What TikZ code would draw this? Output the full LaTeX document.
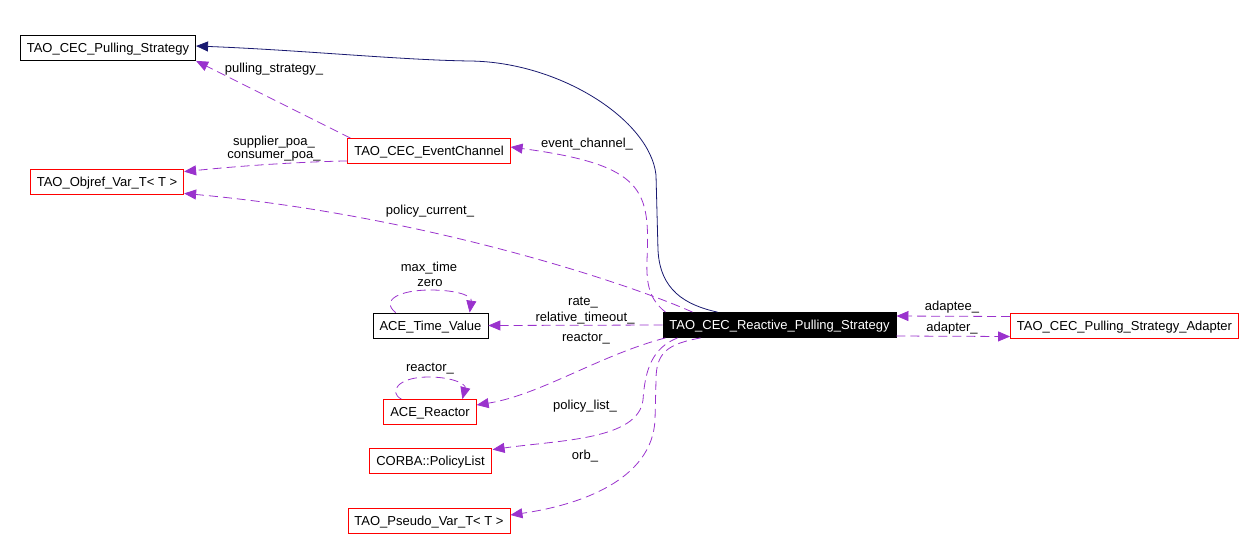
\documentclass[tikz,border=0pt]{standalone}
\usepackage{fontspec}
\setmainfont{Liberation Sans}
\usepackage{xcolor}
\usepackage{tikz}
\usetikzlibrary{arrows.meta, calc}

\definecolor{orchid}{HTML}{9A32CD}
\definecolor{navyline}{HTML}{191970}

\begin{document}
\begin{tikzpicture}[x=1pt, y=-1pt,
                font=\fontsize{13}{15}\selectfont,
                classbox/.style={rectangle, draw=black, line width=0.8pt, inner xsep=6.5pt, inner ysep=0pt, minimum height=25pt, text height=9.4pt, text depth=0pt},
                undoc/.style={classbox, draw=red},
                focus/.style={classbox, fill=black, text=white},
                member/.style={draw=orchid, line width=0.8pt, dash pattern=on 9pt off 5pt, -{Triangle[length=12pt, width=10pt]}},
                inherit/.style={draw=navyline, line width=0.8pt, -{Triangle[length=12pt, width=10pt]}},
                lbl/.style={inner sep=0pt}
            ]
                \useasboundingbox (0,0) rectangle (1259,550);

                % Nodes
                \node[classbox] (ps) at (108,48) {TAO\_CEC\_Pulling\_Strategy};
                \node[undoc] (ec) at (429,151) {TAO\_CEC\_EventChannel};
                \node[undoc] (objref) at (107,181.5) {TAO\_Objref\_Var\_T< T >};
                \node[classbox] (tv) at (430.5,325.5) {ACE\_Time\_Value};
                \node[focus] (rps) at (779.5,325) {TAO\_CEC\_Reactive\_Pulling\_Strategy};
                \node[undoc] (adapter) at (1124.5,325.5) {TAO\_CEC\_Pulling\_Strategy\_Adapter};
                \node[undoc] (reactor) at (430,412) {ACE\_Reactor};
                \node[undoc] (plist) at (430.5,460.5) {CORBA::PolicyList};
                \node[undoc] (pseudo) at (429,521) {TAO\_Pseudo\_Var\_T< T >};

                % Paths: Inheritance
                \draw[inherit] ($(rps.north west)+(55,0)$) .. controls (685,305) and (660,290) .. (658,250)
                    -- (656,175) .. controls (650,120) and (560,62) .. (470,61)
                    .. controls (400,60) and (300,50) .. ($(ps.east)+(0,-2)$);

                % Paths: Members
                \draw[member] ($(ec.north west)+(3,0)$) -- (ps.south east);
                \draw[member] ($(ec.south west)+(0,-3)$) .. controls (300,162) and (250,165) .. ($(objref.north east)+(0,3)$);
                \draw[member] ($(rps.north west)+(3,0)$) .. controls (650,300) and (646,285) .. (647,260)
                    .. controls (650,190) and (645,165) .. ($(ec.east)+(0,-4)$);
                \draw[member] ($(rps.north west)+(30,0)$) .. controls (625,282) and (420,215) .. ($(objref.south east)+(0,-1)$);
                \draw[member] (rps.west) -- (tv.east);
                \draw[member] ($(tv.north west)+(23,0)$) .. controls (380,300) and (400,290) .. (430,290)
                    .. controls (458,290) and (472,296) .. ($(tv.north west)+(97,0)$);
                \draw[member] ($(rps.south west)+(3,0)$) .. controls (600,355) and (540,395) .. ($(reactor.east)+(0,-7)$);
                \draw[member] ($(reactor.north west)+(18,0)$) .. controls (388,392) and (398,377) .. (428,377)
                    .. controls (455,377) and (466,385) .. ($(reactor.north west)+(79,0)$);
                \draw[member] ($(rps.south west)+(15,0)$) .. controls (652,348) and (645,370) .. (643,400)
                    .. controls (638,440) and (560,440) .. ($(plist.north east)+(1,2)$);
                \draw[member] ($(rps.south west)+(38,0)$) .. controls (668,344) and (656,352) .. (656,380)
                    -- (655,420) .. controls (652,480) and (580,505) .. ($(pseudo.east)+(0,-6)$);
                \draw[member] ($(adapter.west)+(0,-9)$) -- ($(rps.east)+(0,-9)$);
                \draw[member] ($(rps.east)+(0,11)$) -- ($(adapter.west)+(0,11)$);

                % Labels
                \node[lbl] (l-ps) at (274,69) {pulling\_strategy\_};
                \node[lbl] (l-sup) at (274,142) {supplier\_poa\_};
                \node[lbl] (l-con) at (274,156) {consumer\_poa\_};
                \node[lbl] (l-ec) at (587,144) {event\_channel\_};
                \node[lbl] (l-pc) at (430,211) {policy\_current\_};
                \node[lbl] (l-max) at (429,268) {max\_time};
                \node[lbl] (l-zero) at (430,283) {zero};
                \node[lbl] (l-rate) at (583,303) {rate\_};
                \node[lbl] (l-rel) at (585,318) {relative\_timeout\_};
                \node[lbl] (l-reac) at (586,339) {reactor\_};
                \node[lbl] (l-self) at (430,369) {reactor\_};
                \node[lbl] (l-pl) at (585,406) {policy\_list\_};
                \node[lbl] (l-orb) at (585,456) {orb\_};
                \node[lbl] (l-tee) at (952,307) {adaptee\_};
                \node[lbl] (l-ter) at (952,328) {adapter\_};
            \end{tikzpicture}
\end{document}
